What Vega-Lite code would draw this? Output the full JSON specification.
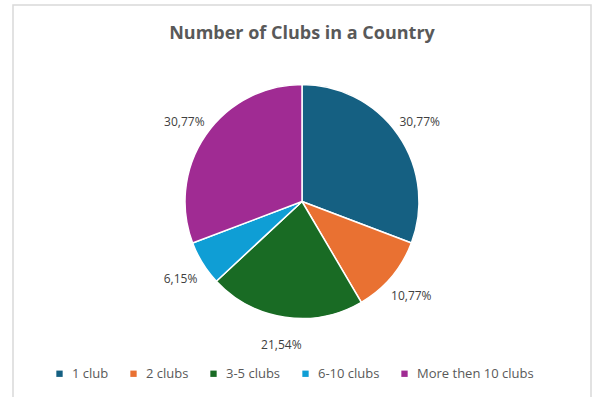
{
  "$schema": "https://vega.github.io/schema/vega-lite/v6.json",
  "width": 578,
  "height": 393,
  "autosize": "none",
  "padding": {"left": 13, "top": 5, "right": 5, "bottom": 0},
  "background": "white",
  "view": {"stroke": "#d9d9d9", "strokeWidth": 1.5},
  "title": {
    "text": "Number of Clubs in a Country",
    "font": "Open Sans",
    "fontSize": 18,
    "fontWeight": "bold",
    "color": "#595959",
    "anchor": "middle",
    "offset": -38
  },
  "data": {
    "values": [
      {"category": "1 club", "value": 20, "idx": 1, "label": "30,77%"},
      {"category": "2 clubs", "value": 7, "idx": 2, "label": "10,77%"},
      {"category": "3-5 clubs", "value": 14, "idx": 3, "label": "21,54%"},
      {"category": "6-10 clubs", "value": 4, "idx": 4, "label": "6,15%"},
      {"category": "More then 10 clubs", "value": 20, "idx": 5, "label": "30,77%"}
    ]
  },
  "encoding": {
    "theta": {"field": "value", "type": "quantitative", "stack": true},
    "order": {"field": "idx", "type": "quantitative"}
  },
  "layer": [
    {
      "mark": {"type": "arc", "outerRadius": 117, "stroke": "white", "strokeWidth": 1.5},
      "encoding": {
        "color": {
          "field": "category",
          "type": "nominal",
          "scale": {
            "domain": ["1 club", "2 clubs", "3-5 clubs", "6-10 clubs", "More then 10 clubs"],
            "range": ["#156082", "#E97132", "#196B24", "#0F9ED5", "#A02B93"]
          },
          "legend": {
            "title": null,
            "orient": "none",
            "direction": "horizontal",
            "legendX": 40,
            "legendY": 362,
            "symbolType": "square",
            "symbolSize": 40,
            "symbolStrokeWidth": 0,
            "labelFont": "Open Sans",
            "labelFontSize": 13,
            "labelColor": "#595959",
            "labelOffset": 6,
            "columnPadding": 18
          }
        }
      }
    },
    {
      "mark": {"type": "text", "radius": 143, "dy": 2, "font": "Open Sans", "fontSize": 12, "color": "#404040"},
      "encoding": {"text": {"field": "label", "type": "nominal"}}
    }
  ]
}
